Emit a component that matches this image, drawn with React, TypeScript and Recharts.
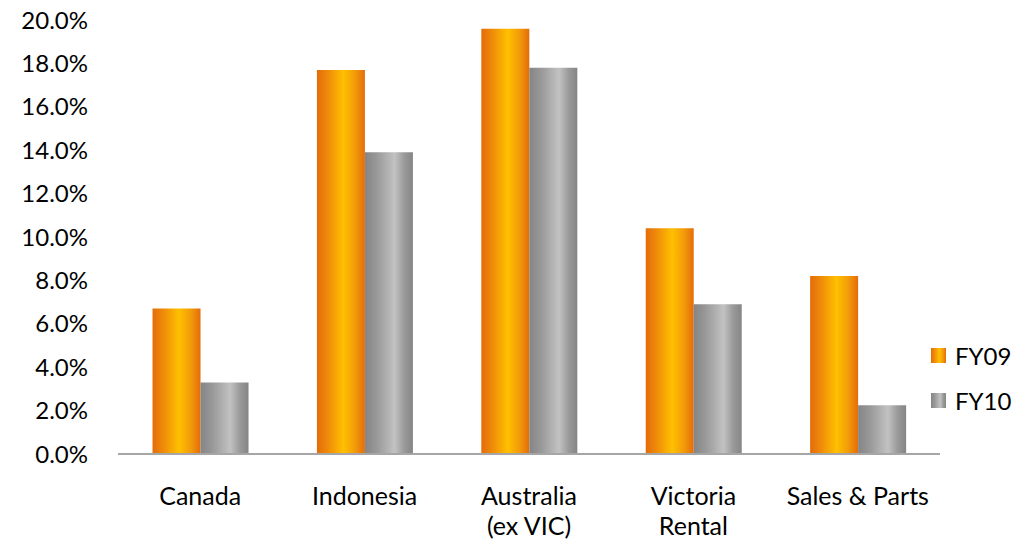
import React from 'react';
import { BarChart, Bar, XAxis, YAxis } from 'recharts';

const categories = ['Canada', 'Indonesia', 'Australia\n(ex VIC)', 'Victoria\nRental', 'Sales & Parts'];
const fy09 = [6.7, 17.7, 19.6, 10.4, 8.2];
const fy10 = [3.3, 13.9, 17.8, 6.9, 2.25];
const yTicks = [0, 2, 4, 6, 8, 10, 12, 14, 16, 18, 20];

const data = categories.map((name, i) => ({ name, FY09: fy09[i], FY10: fy10[i] }));

const FONT = 'Lato, "Open Sans", sans-serif';

const CategoryTick = (props: any) => {
  const { x, y, payload } = props;
  const lines = String(payload.value).split('\n');
  return (
    <text x={x} y={y + 43} textAnchor="middle" fill="#000" fontSize={25} fontFamily={FONT}>
      {lines.map((l, i) => (
        <tspan key={i} x={x} dy={i === 0 ? 0 : 30}>{l}</tspan>
      ))}
    </text>
  );
};

const legendItems = [
  { name: 'FY09', bg: 'linear-gradient(to right, #E46C0A 0%, #EE8A0A 22%, #FFC000 55%, #F29A0A 80%, #E46C0A 100%)' },
  { name: 'FY10', bg: 'linear-gradient(to right, #858585 0%, #999999 25%, #C2C2C2 62%, #9A9A9A 82%, #858585 100%)' },
];

export default function App() {
  return (
    <div style={{ position: 'absolute', left: 0, top: 0, width: 1027, height: 545, background: '#fff' }}>
      <BarChart
        width={1027}
        height={545}
        data={data}
        margin={{ top: 20, right: 87, left: 0, bottom: 0 }}
        barCategoryGap="21%"
        barGap={0}
      >
        <defs>
          <linearGradient id="gOrange" x1="0" y1="0" x2="1" y2="0">
            <stop offset="0%" stopColor="#E46C0A" />
            <stop offset="22%" stopColor="#EE8A0A" />
            <stop offset="55%" stopColor="#FFC000" />
            <stop offset="80%" stopColor="#F29A0A" />
            <stop offset="100%" stopColor="#E46C0A" />
          </linearGradient>
          <linearGradient id="gGray" x1="0" y1="0" x2="1" y2="0">
            <stop offset="0%" stopColor="#858585" />
            <stop offset="25%" stopColor="#999999" />
            <stop offset="62%" stopColor="#C2C2C2" />
            <stop offset="82%" stopColor="#9A9A9A" />
            <stop offset="100%" stopColor="#858585" />
          </linearGradient>
        </defs>
        <XAxis
          dataKey="name"
          height={91}
          interval={0}
          tick={<CategoryTick />}
          tickLine={false}
          axisLine={{ stroke: '#A6A6A6', strokeWidth: 2 }}
        />
        <YAxis
          width={118}
          domain={[0, 20]}
          ticks={yTicks}
          interval={0}
          axisLine={false}
          tickLine={false}
          tickSize={0}
          tickMargin={30}
          tickFormatter={(v: number) => `${v.toFixed(1)}%`}
          tick={{ fill: '#000', fontSize: 24, fontFamily: FONT }}
        />
        <Bar dataKey="FY09" fill="url(#gOrange)" isAnimationActive={false} />
        <Bar dataKey="FY10" fill="url(#gGray)" isAnimationActive={false} />
      </BarChart>
      {legendItems.map((it, i) => (
        <div
          key={it.name}
          style={{ position: 'absolute', left: 931, top: 340 + i * 45, height: 30, display: 'flex', alignItems: 'center', fontFamily: FONT, fontSize: 24, color: '#000' }}
        >
          <span style={{ display: 'inline-block', width: 15, height: 15, background: it.bg, marginRight: 9 }} />
          <span>{it.name}</span>
        </div>
      ))}
    </div>
  );
}
